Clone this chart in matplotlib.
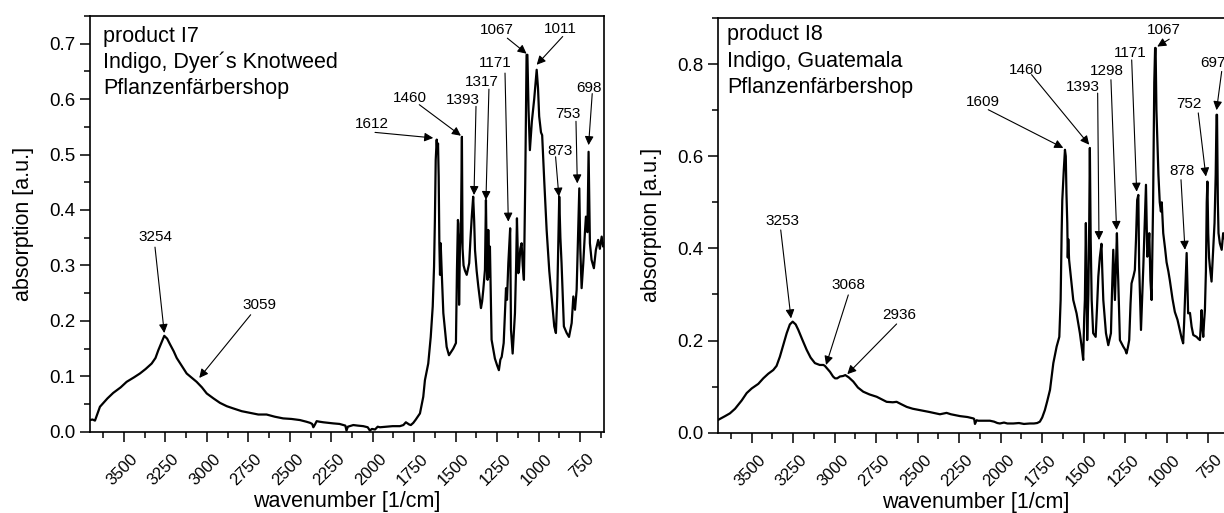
import matplotlib
matplotlib.use("Agg")
import matplotlib.pyplot as plt
from matplotlib.transforms import ScaledTranslation

plt.rcParams['font.family'] = ['Liberation Sans', 'DejaVu Sans']

# ---- product I7 spectrum ----
wn7 = [3705, 3690, 3675, 3645, 3600, 3565, 3520, 3484, 3440, 3404,
       3370, 3333, 3310, 3293, 3275, 3257, 3240, 3223, 3200, 3182,
       3150, 3122, 3090, 3062, 3030, 3001, 2960, 2921, 2880, 2841,
       2790, 2740, 2690, 2640, 2590, 2540, 2490, 2439, 2400, 2378,
       2365, 2358, 2350, 2338, 2320, 2298, 2270, 2238, 2200, 2178,
       2165, 2158, 2150, 2117, 2090, 2057, 2030, 2017, 2005, 1986,
       1970, 1956, 1920, 1880, 1836, 1815, 1800, 1780, 1770, 1755,
       1740, 1715, 1695, 1685, 1665, 1650, 1638, 1630, 1625, 1620,
       1614, 1610, 1606, 1602, 1598, 1594, 1590, 1584, 1574, 1554,
       1540, 1525, 1514, 1498, 1492, 1486, 1483, 1479, 1474, 1468,
       1462, 1458, 1452, 1444, 1433, 1418, 1410, 1402, 1394, 1388,
       1383, 1373, 1363, 1347, 1340, 1333, 1323, 1317, 1312, 1307,
       1303, 1297, 1293, 1283, 1263, 1250, 1239, 1230, 1222, 1210,
       1196, 1190, 1182, 1171, 1166, 1156, 1142, 1135, 1130, 1122,
       1118, 1110, 1102, 1095, 1088, 1080, 1072, 1067, 1060, 1052,
       1040, 1026, 1011, 1003, 996, 985, 978, 965, 951, 935,
       921, 905, 895, 887, 880, 875, 868, 861, 847, 830,
       816, 800, 790, 780, 770, 762, 754, 748, 740, 730,
       720, 714, 705, 698, 690, 680, 666, 654, 640, 630,
       619, 610, 605]
abs7 = [0.021, 0.022, 0.020, 0.045, 0.060, 0.070, 0.080, 0.090, 0.098, 0.105,
        0.113, 0.123, 0.133, 0.147, 0.160, 0.173, 0.168, 0.158, 0.145, 0.133,
        0.118, 0.105, 0.097, 0.090, 0.080, 0.069, 0.060, 0.052, 0.046, 0.042,
        0.037, 0.034, 0.031, 0.031, 0.027, 0.024, 0.023, 0.021, 0.018, 0.016,
        0.014, 0.008, 0.012, 0.019, 0.018, 0.017, 0.016, 0.015, 0.014, 0.012,
        0.011, 0.002, 0.009, 0.012, 0.011, 0.010, 0.008, 0.002, 0.005, 0.004,
        0.009, 0.008, 0.009, 0.010, 0.010, 0.012, 0.017, 0.013, 0.012, 0.016,
        0.022, 0.033, 0.063, 0.093, 0.123, 0.171, 0.226, 0.298, 0.380, 0.490,
        0.527, 0.505, 0.520, 0.460, 0.340, 0.283, 0.340, 0.290, 0.214, 0.153,
        0.138, 0.145, 0.150, 0.160, 0.290, 0.382, 0.375, 0.229, 0.330, 0.360,
        0.532, 0.330, 0.300, 0.291, 0.283, 0.304, 0.350, 0.390, 0.424, 0.380,
        0.328, 0.290, 0.262, 0.223, 0.235, 0.256, 0.292, 0.418, 0.300, 0.274,
        0.364, 0.280, 0.334, 0.166, 0.132, 0.120, 0.111, 0.130, 0.135, 0.160,
        0.259, 0.238, 0.304, 0.367, 0.184, 0.141, 0.214, 0.300, 0.385, 0.286,
        0.290, 0.330, 0.340, 0.300, 0.274, 0.450, 0.680, 0.680, 0.580, 0.508,
        0.560, 0.600, 0.653, 0.620, 0.569, 0.540, 0.535, 0.450, 0.364, 0.290,
        0.244, 0.190, 0.178, 0.244, 0.350, 0.424, 0.350, 0.304, 0.190, 0.178,
        0.171, 0.196, 0.244, 0.220, 0.256, 0.350, 0.439, 0.330, 0.259, 0.304,
        0.360, 0.388, 0.360, 0.505, 0.340, 0.310, 0.295, 0.328, 0.346, 0.330,
        0.352, 0.334, 0.340]

# ---- product I8 spectrum ----
wn8 = [3701, 3680, 3660, 3631, 3600, 3560, 3530, 3500, 3460, 3430,
       3400, 3370, 3350, 3330, 3310, 3289, 3270, 3253, 3235, 3219,
       3195, 3169, 3145, 3119, 3090, 3068, 3059, 3040, 3028, 3010,
       2998, 2985, 2968, 2950, 2936, 2915, 2888, 2860, 2828, 2790,
       2747, 2720, 2687, 2650, 2627, 2600, 2566, 2530, 2486, 2430,
       2366, 2340, 2326, 2300, 2245, 2200, 2165, 2160, 2155, 2145,
       2135, 2100, 2065, 2040, 2020, 2005, 1980, 1960, 1924, 1890,
       1860, 1824, 1800, 1780, 1764, 1750, 1734, 1720, 1703, 1683,
       1663, 1647, 1639, 1633, 1629, 1620, 1613, 1608, 1604, 1599,
       1596, 1593, 1588, 1573, 1563, 1543, 1523, 1510, 1503, 1497,
       1493, 1487, 1483, 1479, 1472, 1467, 1463, 1458, 1452, 1443,
       1428, 1420, 1412, 1403, 1393, 1388, 1382, 1366, 1352, 1336,
       1330, 1322, 1316, 1312, 1306, 1300, 1295, 1292, 1282, 1262,
       1250, 1242, 1234, 1226, 1218, 1212, 1200, 1192, 1185, 1178,
       1171, 1166, 1155, 1148, 1141, 1133, 1125, 1117, 1111, 1105,
       1098, 1091, 1082, 1075, 1070, 1067, 1062, 1050, 1042, 1035,
       1030, 1021, 1010, 1001, 990, 981, 965, 951, 935, 921,
       910, 901, 895, 890, 884, 880, 876, 871, 860, 850,
       840, 830, 820, 810, 800, 795, 790, 785, 780, 775,
       770, 764, 759, 755, 750, 745, 740, 730, 720, 712,
       705, 700, 697, 692, 688, 680, 669, 660, 650, 640,
       625, 610, 600]
abs8 = [0.028, 0.032, 0.036, 0.042, 0.052, 0.070, 0.086, 0.096, 0.106, 0.118,
        0.128, 0.136, 0.145, 0.165, 0.190, 0.216, 0.235, 0.241, 0.235, 0.223,
        0.202, 0.180, 0.163, 0.151, 0.147, 0.147, 0.145, 0.137, 0.132, 0.122,
        0.118, 0.118, 0.122, 0.123, 0.125, 0.120, 0.111, 0.098, 0.089, 0.083,
        0.078, 0.073, 0.067, 0.066, 0.067, 0.062, 0.056, 0.052, 0.049, 0.045,
        0.040, 0.042, 0.043, 0.040, 0.036, 0.034, 0.031, 0.030, 0.019, 0.027,
        0.026, 0.026, 0.026, 0.024, 0.021, 0.020, 0.022, 0.020, 0.020, 0.021,
        0.019, 0.020, 0.020, 0.021, 0.024, 0.033, 0.049, 0.068, 0.093, 0.151,
        0.187, 0.208, 0.288, 0.433, 0.505, 0.570, 0.614, 0.600, 0.520, 0.455,
        0.380, 0.420, 0.375, 0.324, 0.288, 0.259, 0.216, 0.180, 0.158, 0.250,
        0.288, 0.455, 0.320, 0.201, 0.300, 0.450, 0.618, 0.420, 0.288, 0.216,
        0.208, 0.270, 0.339, 0.380, 0.410, 0.350, 0.288, 0.216, 0.190, 0.216,
        0.300, 0.397, 0.330, 0.288, 0.360, 0.433, 0.360, 0.330, 0.201, 0.187,
        0.180, 0.172, 0.185, 0.201, 0.280, 0.324, 0.340, 0.353, 0.420, 0.505,
        0.516, 0.360, 0.223, 0.290, 0.360, 0.450, 0.538, 0.382, 0.400, 0.433,
        0.330, 0.288, 0.500, 0.760, 0.835, 0.835, 0.700, 0.560, 0.500, 0.480,
        0.500, 0.433, 0.400, 0.370, 0.350, 0.330, 0.290, 0.262, 0.245, 0.223,
        0.205, 0.194, 0.240, 0.288, 0.350, 0.390, 0.330, 0.259, 0.260, 0.230,
        0.212, 0.210, 0.208, 0.204, 0.201, 0.230, 0.266, 0.230, 0.208, 0.240,
        0.266, 0.350, 0.500, 0.545, 0.433, 0.380, 0.360, 0.328, 0.397, 0.455,
        0.560, 0.690, 0.690, 0.500, 0.433, 0.411, 0.397, 0.433, 0.420, 0.430,
        0.410, 0.420, 0.420]

# peak labels: label, text centre, arrow tail, arrow tip (wavenumber, absorption)
peaks7 = ['3254', '3059', '1612', '1460', '1393', '1317',
          '1171', '1067', '1011', '873', '753', '698']
text7 = [(3309, 0.351), (2686, 0.229), (2006, 0.555), (1775, 0.602), (1454, 0.599), (1343, 0.631),
         (1263, 0.665), (1253, 0.724), (871, 0.726), (871, 0.507), (820, 0.573), (694, 0.620)]
tail7 = [(3313, 0.333), (2736, 0.211), (1986, 0.540), (1719, 0.590), (1377, 0.587), (1299, 0.618),
         (1202, 0.647), (1188, 0.710), (854, 0.713), (897, 0.496), (774, 0.560), (676, 0.610)]
tip7 = [(3257, 0.178), (3046, 0.097), (1635, 0.530), (1468, 0.534), (1389, 0.427), (1317, 0.418),
        (1182, 0.379), (1072, 0.682), (1011, 0.662), (877, 0.424), (766, 0.448), (698, 0.517)]

peaks8 = ['3253', '3068', '2936', '1609', '1460', '1393',
          '1298', '1171', '1067', '878', '752', '697']
text8 = [(3313, 0.460), (2918, 0.321), (2611, 0.256), (2105, 0.717), (1848, 0.788), (1503, 0.750),
         (1362, 0.784), (1222, 0.824), (1015, 0.874), (910, 0.567), (864, 0.714), (720, 0.803)]
tail8 = [(3325, 0.440), (2918, 0.299), (2627, 0.236), (2075, 0.701), (1814, 0.777), (1416, 0.737),
         (1336, 0.766), (1211, 0.809), (985, 0.854), (914, 0.549), (810, 0.694), (669, 0.784)]
tip8 = [(3263, 0.248), (3052, 0.147), (2924, 0.127), (1623, 0.618), (1467, 0.625), (1408, 0.418),
        (1302, 0.440), (1181, 0.523), (1057, 0.838), (890, 0.397), (764, 0.556), (700, 0.700)]

info7 = ['product I7', 'Indigo, Dyer\u00b4s Knotweed', 'Pflanzenf\u00e4rbershop']
info8 = ['product I8', 'Indigo, Guatemala', 'Pflanzenf\u00e4rbershop']


def draw_panel(fig, ax, wn, ab, xlim, ylim, ymaj, ymin, info, info_y, peaks, text, tail, tip):
    ax.plot(wn, ab, color='black', lw=1.6)
    ax.set_xlim(*xlim)
    ax.set_ylim(*ylim)
    ax.set_xticks([3500, 3250, 3000, 2750, 2500, 2250, 2000, 1750, 1500, 1250, 1000, 750])
    ax.set_xticks(range(3625, 600, -125), minor=True)
    ax.set_yticks(ymaj)
    ax.set_yticks(ymin, minor=True)
    ax.set_yticklabels(['%.1f' % v for v in ymaj])
    ax.tick_params(which='major', direction='out', length=7, width=1.1)
    ax.tick_params(which='minor', direction='out', length=4, width=1.1)
    ax.tick_params(axis='y', labelsize=13.5)
    ax.tick_params(axis='x', labelsize=12, pad=7)
    # rotated labels sit a little right of their ticks, as in the original
    shift = ScaledTranslation(6 / 100, 0, fig.dpi_scale_trans)
    for lab in ax.get_xticklabels():
        lab.set_rotation(45)
        lab.set_ha('right')
        lab.set_va('top')
        lab.set_rotation_mode('anchor')
        lab.set_transform(lab.get_transform() + shift)
    for s in ax.spines.values():
        s.set_linewidth(1.2)
    ax.set_xlabel('wavenumber [1/cm]', fontsize=15.5, va='center')
    ax.xaxis.set_label_coords(0.5, -0.168)
    ax.set_ylabel('absorption [a.u.]', fontsize=15.5, va='center')
    ax.yaxis.set_label_coords(-0.13, 0.5)

    for i, line in enumerate(info):
        ax.text(info_y[0], info_y[1][i], line, transform=ax.transAxes,
                fontsize=15.5, ha='left', va='baseline')

    for lab, t, a, b in zip(peaks, text, tail, tip):
        ax.text(t[0], t[1], lab, fontsize=11, ha='center', va='center')
        ax.annotate('', xy=b, xytext=a,
                    arrowprops=dict(arrowstyle='-|>', color='black', lw=0.8,
                                    mutation_scale=13, shrinkA=0, shrinkB=0))


fig = plt.figure(figsize=(12.24, 5.13), dpi=100)
ax1 = fig.add_axes([90 / 1224, 1 - 431.7 / 513, 514 / 1224, 415.7 / 513])
ax2 = fig.add_axes([718.3 / 1224, 1 - 432.7 / 513, 514 / 1224, 414.7 / 513])

draw_panel(fig, ax1, wn7, abs7, (3705, 605), (0, 0.75),
           [0.0, 0.1, 0.2, 0.3, 0.4, 0.5, 0.6, 0.7],
           [0.05, 0.15, 0.25, 0.35, 0.45, 0.55, 0.65, 0.75],
           info7, (0.025, [0.938, 0.876, 0.812]), peaks7, text7, tail7, tip7)
draw_panel(fig, ax2, wn8, abs8, (3701, 605), (0, 0.9),
           [0.0, 0.2, 0.4, 0.6, 0.8],
           [0.1, 0.3, 0.5, 0.7, 0.9],
           info8, (0.0175, [0.947, 0.883, 0.818]), peaks8, text8, tail8, tip8)

fig.savefig('out.png', dpi=100)
